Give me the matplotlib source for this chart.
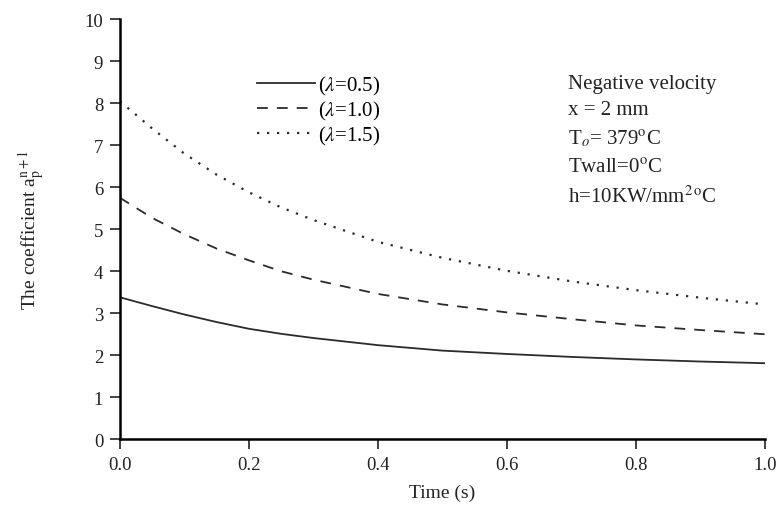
import numpy as np
import matplotlib
matplotlib.use('Agg')
import matplotlib.pyplot as plt

plt.rcParams['font.family'] = ['Liberation Serif', 'DejaVu Serif']
plt.rcParams['mathtext.fontset'] = 'stix'

# valores
time_s = [0.0, 0.05, 0.1, 0.15, 0.2, 0.25, 0.3, 0.4, 0.5, 0.6, 0.7, 0.8, 0.9, 1.0]
coef_l05 = [3.38, 3.17, 2.97, 2.79, 2.63, 2.51, 2.41, 2.24, 2.11, 2.03, 1.96, 1.90, 1.85, 1.81]
coef_l10 = [5.75, 5.27, 4.88, 4.54, 4.26, 4.00, 3.80, 3.46, 3.21, 3.02, 2.86, 2.71, 2.60, 2.50]
coef_l15 = [8.05, 7.40, 6.80, 6.30, 5.88, 5.52, 5.22, 4.70, 4.32, 4.01, 3.76, 3.55, 3.37, 3.21]
etiquetas = [r'($\lambda$=0.5)', r'($\lambda$=1.0)', r'($\lambda$=1.5)']
notas = ['Negative velocity', 'x = 2 mm', r'T$_o$= 379$^{\rm o}$C',
         r'Twall=0$^{\rm o}$C', r'h=10KW/mm$^{2\,\rm o}$C']

color_linea = '#2b2b2b'
color_texto = '#222222'

fig = plt.figure(figsize=(7.78, 5.06), dpi=100)
ax = fig.add_axes([0.154, 0.130, 0.829, 0.830])

ax.plot(time_s, coef_l05, color=color_linea, lw=1.3, ls='-', label=etiquetas[0])
ax.plot(time_s, coef_l10, color=color_linea, lw=1.3, ls=(0, (6, 5)), label=etiquetas[1])
ax.plot(time_s, coef_l15, color=color_linea, lw=1.6, ls=(0, (1, 3.5)), label=etiquetas[2])

ax.set_xlim(0, 1.0)
ax.set_ylim(0, 10)
ax.set_xticks([0.0, 0.2, 0.4, 0.6, 0.8, 1.0])
ax.set_xticklabels(['0.0', '0.2', '0.4', '0.6', '0.8', '1.0'])
ax.set_yticks(range(0, 11))
ax.spines['top'].set_visible(False)
ax.spines['right'].set_visible(False)
ax.spines['left'].set_linewidth(1.8)
ax.spines['bottom'].set_linewidth(1.8)
ax.tick_params(direction='out', length=7, width=1.2, labelsize=13.5,
               colors=color_texto, pad=5)

ax.set_xlabel('Time (s)', fontsize=14, color=color_texto)
ax.set_ylabel(r'The coefficient a$_{\rm p}^{\rm n+1}$', fontsize=14, color=color_texto)
ax.xaxis.set_label_coords(0.5, -0.106)
ax.yaxis.set_label_coords(-0.113, 0.5)

ax.legend(loc='upper left', bbox_to_anchor=(0.19, 0.905), frameon=False,
          fontsize=15, handlelength=2.8, handletextpad=0.15, labelspacing=0.1,
          borderpad=0.2)

y_nota = [0.848, 0.785, 0.718, 0.648, 0.578]
for txt, yy in zip(notas, y_nota):
    ax.text(0.695, yy, txt, transform=ax.transAxes, fontsize=15, va='center',
            ha='left', color=color_texto)

fig.savefig('out.png', dpi=100)
